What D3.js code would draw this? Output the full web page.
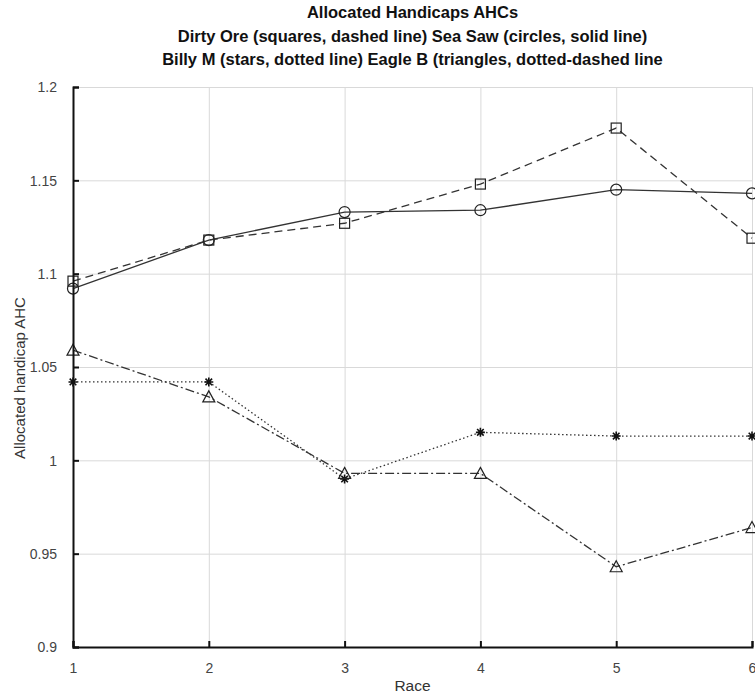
<!DOCTYPE html>
<html>
<head>
<meta charset="utf-8">
<script src="https://cdn.jsdelivr.net/npm/d3@7"></script>
<style>
  body { margin: 0; background: #fff; }
  text { font-family: "Liberation Sans", Arial, sans-serif; }
</style>
</head>
<body>
<script>
// Data
var races = [1, 2, 3, 4, 5, 6];
var dirtyOre = [1.096, 1.118, 1.127, 1.148, 1.178, 1.119];
var seaSaw   = [1.092, 1.118, 1.133, 1.134, 1.145, 1.143];
var billyM   = [1.042, 1.042, 0.990, 1.015, 1.013, 1.013];
var eagleB   = [1.059, 1.034, 0.993, 0.993, 0.943, 0.964];
var yTicks = [0.9, 0.95, 1, 1.05, 1.1, 1.15, 1.2];
var titleLines = [
    "Allocated Handicaps AHCs",
    "Dirty Ore (squares, dashed line) Sea Saw (circles, solid line)",
    "Billy M (stars, dotted line) Eagle B (triangles, dotted-dashed line"
];

var series = [
    { values: dirtyOre, marker: "square", dash: "8,5" },
    { values: seaSaw, marker: "circle", dash: null },
    { values: billyM, marker: "star", dash: "1.5,2.5" },
    { values: eagleB, marker: "triangle", dash: "9,3,2,3" }
];

var margin = { top: 87, right: 3, bottom: 51, left: 73 };
var width = 755 - margin.left - margin.right;
var height = 698 - margin.top - margin.bottom;

var svg = d3.select("body").append("svg")
    .attr("width", 755)
    .attr("height", 698);

var g = svg.append("g")
    .attr("transform", "translate(" + margin.left + "," + margin.top + ")");

var x = d3.scaleLinear().domain([1, 6]).range([0, width]);
var y = d3.scaleLinear().domain([0.9, 1.2]).range([height, 0]);

// grid
g.append("g")
    .attr("class", "grid")
    .call(d3.axisLeft(y).tickValues(yTicks).tickSize(-width).tickFormat(""))
    .call((s) => s.select(".domain").remove())
    .selectAll("line").attr("stroke", "#d9d9d9");
g.append("g")
    .attr("class", "grid")
    .attr("transform", "translate(0," + height + ")")
    .call(d3.axisBottom(x).tickValues(races).tickSize(height).tickFormat(""))
    .call((s) => s.select(".domain").remove())
    .selectAll("line").attr("stroke", "#d9d9d9")
    .attr("y2", -height);

// lines and markers
var line = d3.line()
    .x((d, i) => x(races[i]))
    .y((d) => y(d));

series.forEach((s) => {
    g.append("path")
        .datum(s.values)
        .attr("fill", "none")
        .attr("stroke", "#333")
        .attr("stroke-width", 1.3)
        .attr("stroke-dasharray", s.dash)
        .attr("d", line);

    var pts = g.append("g").selectAll("g")
        .data(s.values)
        .enter().append("g")
        .attr("transform", (d, i) => "translate(" + x(races[i]) + "," + y(d) + ")");

    if (s.marker === "square") {
        pts.append("rect").attr("x", -5).attr("y", -5).attr("width", 10).attr("height", 10)
            .attr("fill", "none").attr("stroke", "#222").attr("stroke-width", 1.2);
    } else if (s.marker === "circle") {
        pts.append("circle").attr("r", 5.5)
            .attr("fill", "none").attr("stroke", "#222").attr("stroke-width", 1.2);
    } else if (s.marker === "triangle") {
        pts.append("path").attr("d", "M0,-6L6,5L-6,5Z")
            .attr("fill", "none").attr("stroke", "#222").attr("stroke-width", 1.2);
    } else {
        pts.append("path").attr("d", "M-4.5,0L4.5,0M0,-4.5L0,4.5M-3.3,-3.3L3.3,3.3M-3.3,3.3L3.3,-3.3")
            .attr("fill", "none").attr("stroke", "#111").attr("stroke-width", 1.6);
    }
});

// axes
var leftAxis = g.append("g")
    .call(d3.axisLeft(y).tickValues(yTicks).tickSize(-6).tickPadding(16)
        .tickFormat((d) => String(+d.toFixed(2))));
var bottomAxis = g.append("g")
    .attr("transform", "translate(0," + height + ")")
    .call(d3.axisBottom(x).tickValues(races).tickSize(-6).tickPadding(16)
        .tickFormat(d3.format("d")));

[leftAxis, bottomAxis].forEach((a) => {
    a.select(".domain").attr("stroke", "#111").attr("stroke-width", 2);
    a.selectAll(".tick line").attr("stroke", "#111").attr("stroke-width", 2);
    a.selectAll(".tick text")
        .attr("font-size", "14px")
        .attr("fill", "#444")
        .style("font-family", "\"Liberation Sans\", Arial, sans-serif");
});
leftAxis.selectAll(".tick text").attr("dy", "0.35em");

// title
svg.selectAll(".title")
    .data(titleLines)
    .enter().append("text")
    .attr("class", "title")
    .attr("x", margin.left + width / 2)
    .attr("y", (d, i) => 18 + i * 23.5)
    .attr("text-anchor", "middle")
    .attr("font-size", "16.5px")
    .attr("font-weight", "bold")
    .attr("fill", "#111")
    .text((d) => d);

// axis labels
svg.append("text")
    .attr("x", margin.left + width / 2)
    .attr("y", 691)
    .attr("text-anchor", "middle")
    .attr("font-size", "15.5px")
    .attr("fill", "#333")
    .text("Race");

svg.append("text")
    .attr("transform", "rotate(-90)")
    .attr("x", -378)
    .attr("y", 25)
    .attr("text-anchor", "middle")
    .attr("font-size", "15px")
    .attr("fill", "#333")
    .text("Allocated handicap AHC");
</script>
</body>
</html>
